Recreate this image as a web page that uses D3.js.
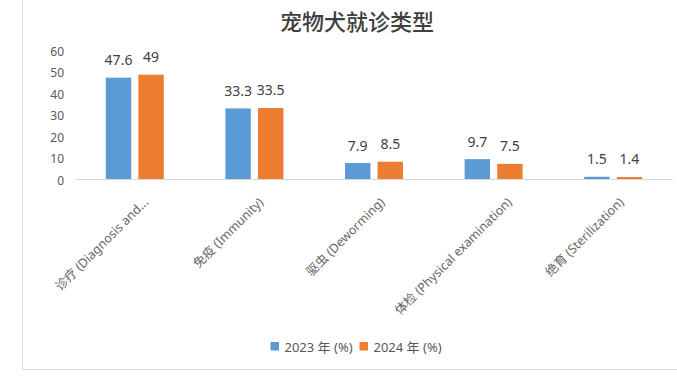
<!DOCTYPE html>
<html>
<head>
<meta charset="utf-8">
<script src="https://cdn.jsdelivr.net/npm/d3@7/dist/d3.min.js"></script>
<style>
  html, body { margin: 0; padding: 0; background: #fff; }
  svg { display: block; }
  text { font-family: "Noto Sans", "Noto Sans CJK SC", sans-serif; }
</style>
</head>
<body>
<svg id="chart" width="677" height="383"></svg>
<script>
const title = "宠物犬就诊类型";
const categories = ["诊疗 (Diagnosis and...", "免疫 (Immunity)", "驱虫 (Deworming)", "体检 (Physical examination)", "绝育 (Sterilization)"];
const seriesNames = ["2023 年 (%)", "2024 年 (%)"];
const values2023 = [47.6, 33.3, 7.9, 9.7, 1.5];
const values2024 = [49, 33.5, 8.5, 7.5, 1.4];
const yTicks = [0, 10, 20, 30, 40, 50, 60];
const colors = ["#5B9BD5", "#ED7D31"];

const svg = d3.select("#chart");
const seriesValues = [values2023, values2024];

// frame borders
svg.append("line").attr("x1", 22.5).attr("x2", 22.5).attr("y1", 0).attr("y2", 369.5)
  .attr("stroke", "#d9d9d9").attr("stroke-width", 1);
svg.append("line").attr("x1", 22.5).attr("x2", 677).attr("y1", 369.5).attr("y2", 369.5)
  .attr("stroke", "#d9d9d9").attr("stroke-width", 1);

// title
svg.append("text").attr("x", 357).attr("y", 20)
  .attr("text-anchor", "middle").attr("dominant-baseline", "central")
  .style("font-family", "'Noto Sans CJK SC', sans-serif")
  .style("font-size", "22px").style("font-weight", "500").attr("fill", "#404040")
  .text(title);

const x0 = d3.scaleBand().domain(categories).range([75, 673]).paddingInner(0).paddingOuter(0);
const half = 29;
const x1 = d3.scaleBand().domain(seriesNames)
  .range([x0.bandwidth() / 2 - half, x0.bandwidth() / 2 + half]).paddingInner(0.22);
const y = d3.scaleLinear().domain([0, 60]).range([180, 51]);

// y tick labels
const yAxis = d3.axisLeft(y).tickValues(yTicks).tickSize(0).tickPadding(0);
const yg = svg.append("g").attr("transform", "translate(64,0)").call(yAxis);
yg.select(".domain").remove();
yg.selectAll("text").style("font-family", "'Noto Sans', sans-serif")
  .style("font-size", "12px").attr("fill", "#595959").attr("dy", "0.35em");

// bars
const groups = svg.append("g").selectAll("g").data(categories).join("g")
  .attr("transform", d => `translate(${x0(d)},0)`);

seriesNames.forEach((s, si) => {
  groups.append("rect")
    .attr("x", x1(s))
    .attr("width", x1.bandwidth())
    .attr("y", (d, i) => y(seriesValues[si][i]))
    .attr("height", (d, i) => y(0) - y(seriesValues[si][i]))
    .attr("fill", colors[si]);
  groups.append("text")
    .attr("x", x1(s) + x1.bandwidth() / 2)
    .attr("y", (d, i) => y(seriesValues[si][i]) - 12.5)
    .attr("text-anchor", "middle")
    .style("font-size", "14px").attr("fill", "#404040")
    .text((d, i) => String(seriesValues[si][i]));
});

// x axis line
svg.append("line").attr("x1", 75).attr("x2", 673).attr("y1", 179.5).attr("y2", 179.5)
  .attr("stroke", "#d9d9d9").attr("stroke-width", 1);

// x labels rotated
const xl = svg.append("g").selectAll("text").data(categories).join("text")
  .attr("text-anchor", "end")
  .style("font-size", "12.5px").attr("fill", "#666666")
  .text(d => d);
xl.each(function (d) {
  const L = this.getComputedTextLength();
  const cx = x0(d) + x0.bandwidth() / 2 + 10 + 0.14 * (L - 95);
  d3.select(this).attr("transform", `translate(${cx},203) rotate(-45)`);
});

// legend
const legend = svg.append("g");
const legX = [270.5, 359.5];
seriesNames.forEach((s, si) => {
  legend.append("rect").attr("x", legX[si]).attr("y", 342).attr("width", 8.5).attr("height", 8.5)
    .attr("fill", colors[si]);
  legend.append("text").attr("x", legX[si] + 14).attr("y", 346.5)
    .attr("dominant-baseline", "central")
    .style("font-size", "13px").attr("fill", "#595959").text(s);
});
</script>
</body>
</html>
